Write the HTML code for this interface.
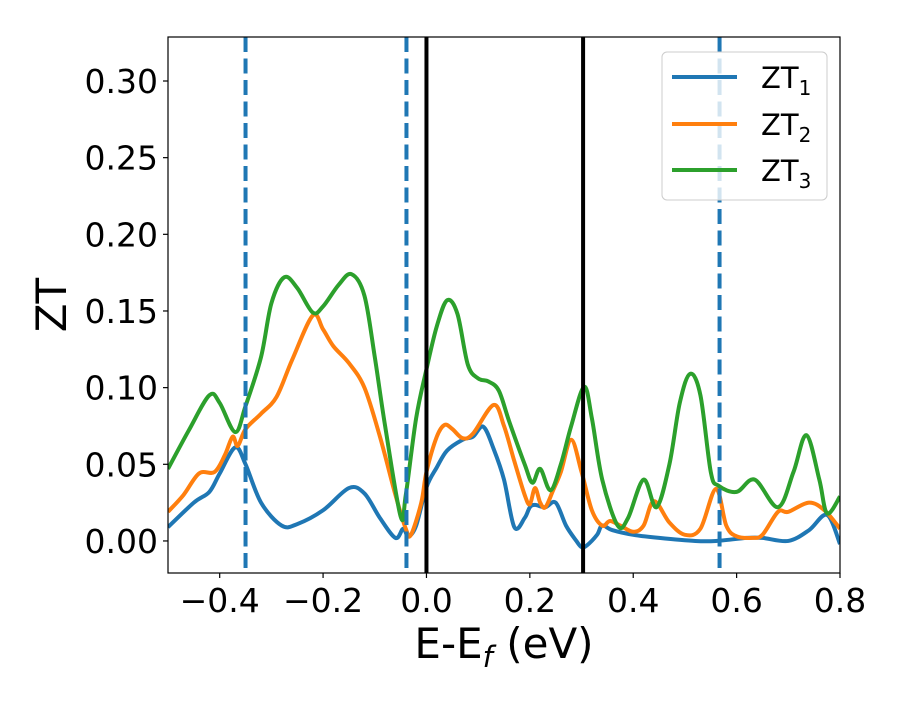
<!DOCTYPE html>
<html><head><meta charset="utf-8"><style>
body{margin:0;background:#fff;}
svg text{font-family:"DejaVu Sans","Liberation Sans",sans-serif;}
</style></head><body>
<svg id="chart" width="900" height="700" viewBox="0 0 900 700">
<g id="plot"></g>
</svg>
<script>
const xTicks=[-0.4,-0.2,0.0,0.2,0.4,0.6,0.8];
const xTickLabels=["\u22120.4","\u22120.2","0.0","0.2","0.4","0.6","0.8"];
const yTicks=[0,0.05,0.1,0.15,0.2,0.25,0.3];
const yTickLabels=["0.00","0.05","0.10","0.15","0.20","0.25","0.30"];
const dashedX=[-0.35,-0.0387,0.567];
const solidX=[0,0.303];
const seriesNames=["ZT1","ZT2","ZT3"];
const zt1X=[-0.5,-0.45,-0.42,-0.4,-0.37,-0.35,-0.32,-0.28,-0.25,-0.2,-0.15,-0.12,-0.09,-0.06,-0.045,-0.035,-0.02,0,0.02,0.04,0.07,0.09,0.11,0.13,0.15,0.17,0.19,0.2,0.21,0.23,0.25,0.27,0.29,0.3,0.31,0.33,0.34,0.36,0.4,0.45,0.52,0.56,0.62,0.65,0.7,0.74,0.775,0.8];
const zt1Y=[0.009,0.025,0.032,0.044,0.061,0.05,0.025,0.010,0.011,0.020,0.0345,0.031,0.015,0.002,0.008,0.003,0.01,0.035,0.048,0.059,0.066,0.068,0.0745,0.06,0.04,0.009,0.015,0.022,0.0235,0.022,0.025,0.01,0.0,-0.004,-0.003,0.004,0.01,0.007,0.004,0.002,0.0,0.0,0.002,0.002,0.0,0.007,0.017,-0.002];
const zt2X=[-0.5,-0.47,-0.44,-0.41,-0.39,-0.375,-0.365,-0.35,-0.32,-0.29,-0.26,-0.22,-0.2,-0.18,-0.15,-0.12,-0.09,-0.06,-0.04,-0.03,-0.01,0,0.02,0.035,0.05,0.07,0.09,0.13,0.15,0.17,0.19,0.2,0.21,0.22,0.23,0.245,0.26,0.28,0.3,0.32,0.34,0.355,0.375,0.4,0.42,0.44,0.47,0.5,0.53,0.56,0.58,0.6,0.63,0.65,0.68,0.7,0.74,0.77,0.8];
const zt2Y=[0.019,0.03,0.044,0.045,0.056,0.068,0.062,0.073,0.083,0.094,0.118,0.147,0.138,0.127,0.116,0.1,0.068,0.03,0.008,0.004,0.025,0.045,0.068,0.0757,0.073,0.067,0.07,0.0887,0.075,0.052,0.03,0.024,0.0345,0.025,0.022,0.033,0.045,0.066,0.045,0.02,0.01,0.013,0.01,0.006,0.01,0.026,0.012,0.004,0.008,0.034,0.01,0.003,0.002,0.004,0.019,0.019,0.025,0.02,0.008];
const zt3X=[-0.5,-0.46,-0.42,-0.4,-0.37,-0.35,-0.32,-0.3,-0.275,-0.25,-0.22,-0.2,-0.17,-0.145,-0.12,-0.1,-0.08,-0.05,-0.04,-0.02,0,0.02,0.04,0.06,0.08,0.1,0.12,0.14,0.16,0.19,0.205,0.22,0.24,0.26,0.28,0.305,0.32,0.34,0.37,0.39,0.42,0.445,0.47,0.49,0.51,0.53,0.55,0.565,0.6,0.635,0.68,0.71,0.735,0.76,0.775,0.8];
const zt3Y=[0.047,0.072,0.095,0.09,0.071,0.088,0.12,0.155,0.172,0.165,0.149,0.153,0.167,0.174,0.16,0.12,0.075,0.016,0.03,0.08,0.112,0.14,0.157,0.148,0.115,0.106,0.104,0.098,0.078,0.05,0.038,0.047,0.033,0.05,0.075,0.1005,0.08,0.04,0.01,0.015,0.04,0.022,0.05,0.09,0.109,0.095,0.045,0.036,0.032,0.04,0.022,0.045,0.069,0.04,0.018,0.029];

const L=168,R=840,T=37,B=573;
const xMin=-0.5,xMax=0.8,yMin=-0.0209,yMax=0.3287;
const sx=v=>L+(v-xMin)/(xMax-xMin)*(R-L);
const sy=v=>B-(v-yMin)/(yMax-yMin)*(B-T);
const NS="http://www.w3.org/2000/svg";
const g=document.getElementById('plot');
function mk(tag,attrs,parent){const e=document.createElementNS(NS,tag);for(const k in attrs)e.setAttribute(k,attrs[k]);(parent||g).appendChild(e);return e;}
const clip=mk('clipPath',{id:'clp'});mk('rect',{x:L,y:T,width:R-L,height:B-T},clip);
function smooth(xs,ys){const p=xs.map((x,i)=>[sx(x),sy(ys[i])]);let d='M'+p[0][0]+','+p[0][1];
for(let i=0;i<p.length-1;i++){const p0=p[Math.max(0,i-1)],p1=p[i],p2=p[i+1],p3=p[Math.min(p.length-1,i+2)];
const c1=[p1[0]+(p2[0]-p0[0])/6,p1[1]+(p2[1]-p0[1])/6],c2=[p2[0]-(p3[0]-p1[0])/6,p2[1]-(p3[1]-p1[1])/6];
d+=' C'+c1[0]+','+c1[1]+' '+c2[0]+','+c2[1]+' '+p2[0]+','+p2[1];}return d;}
const cols=['#1f77b4','#ff7f0e','#2ca02c'];
const xs=[zt1X,zt2X,zt3X],ys=[zt1Y,zt2Y,zt3Y];
for(let i=0;i<3;i++){const p=mk('path',{d:smooth(xs[i],ys[i]),fill:'none',stroke:cols[i],'stroke-width':4,'clip-path':'url(#clp)','stroke-linejoin':'round'});

}
dashedX.forEach((v,i)=>{const l=mk('line',{x1:sx(v),x2:sx(v),y1:T,y2:B,stroke:'#1f77b4','stroke-width':4,'stroke-dasharray':'15 6.5'});

});
solidX.forEach((v,i)=>{const l=mk('line',{x1:sx(v),x2:sx(v),y1:T,y2:B,stroke:'#000','stroke-width':4});

});
const frame=mk('rect',{x:L,y:T,width:R-L,height:B-T,fill:'none',stroke:'#000','stroke-width':1.2});


xTicks.forEach((v,i)=>{mk('line',{x1:sx(v),x2:sx(v),y1:B,y2:B+5,stroke:'#000','stroke-width':1.2});
const t=mk('text',{x:sx(v),y:B+39,'font-size':33,'text-anchor':'middle'});t.textContent=xTickLabels[i];

});
yTicks.forEach((v,i)=>{mk('line',{x1:L-5,x2:L,y1:sy(v),y2:sy(v),stroke:'#000','stroke-width':1.2});
const t=mk('text',{x:L-10,y:sy(v)+12,'font-size':33,'text-anchor':'end'});t.textContent=yTickLabels[i];

});
</script>
<svg style="position:absolute;left:0;top:0" width="900" height="700">
<text x="504" y="658" font-size="42" text-anchor="middle" font-family="DejaVu Sans, Liberation Sans, sans-serif">E-E<tspan font-style="italic" font-size="29" dy="9">f</tspan><tspan dy="-9"> (eV)</tspan></text>
<text transform="translate(66,305) rotate(-90)" font-size="42" text-anchor="middle" font-family="DejaVu Sans, Liberation Sans, sans-serif">ZT</text>
<g font-family="DejaVu Sans, Liberation Sans, sans-serif">
<rect x="662" y="52" width="165" height="148" rx="5" fill="#fff" fill-opacity="0.8" stroke="#ccc" stroke-width="1"/>
<g><line x1="672" x2="737" y1="77" y2="77" stroke="#1f77b4" stroke-width="4"/><text x="761" y="88" font-size="29">ZT<tspan font-size="20" dy="7">1</tspan></text></g>
<g><line x1="672" x2="737" y1="124" y2="124" stroke="#ff7f0e" stroke-width="4"/><text x="761" y="135" font-size="29">ZT<tspan font-size="20" dy="7">2</tspan></text></g>
<g><line x1="672" x2="737" y1="170" y2="170" stroke="#2ca02c" stroke-width="4"/><text x="761" y="181" font-size="29">ZT<tspan font-size="20" dy="7">3</tspan></text></g>
</g>
</svg>
</body></html>
